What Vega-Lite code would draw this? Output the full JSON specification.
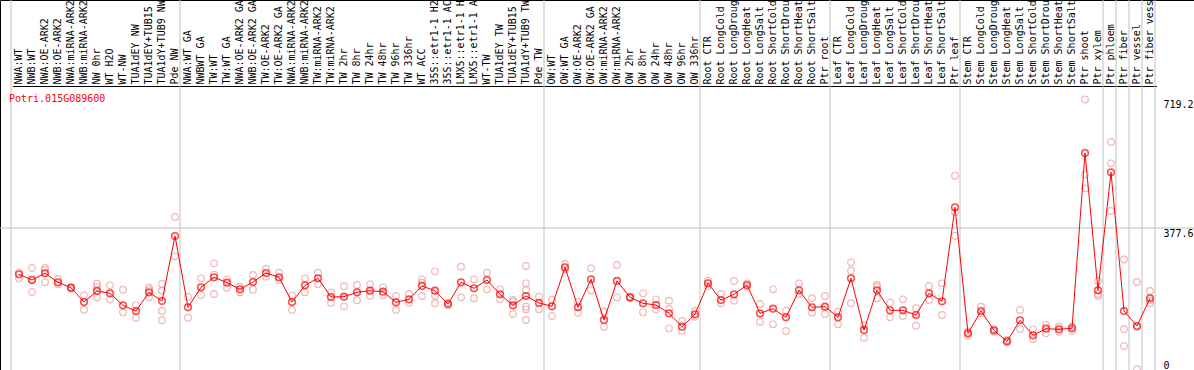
{
  "$schema": "https://vega.github.io/schema/vega-lite/v6.json",
  "width": 1194,
  "height": 370,
  "autosize": {"type": "none"},
  "padding": 0,
  "background": "white",
  "config": {
    "view": {"stroke": "black", "strokeWidth": 1},
    "axis": {"labelFont": "DejaVu Sans Mono", "labelFontSize": 10, "labelColor": "black"}
  },
  "title": {
    "text": "Potri.015G089600",
    "anchor": "start",
    "frame": "group",
    "orient": "top",
    "offset": -127,
    "dx": 9,
    "baseline": "middle",
    "color": "red",
    "font": "DejaVu Sans Mono",
    "fontSize": 10,
    "fontWeight": "normal"
  },
  "data": {
    "values": [
      {"s": "NWA:WT", "m": 254.5, "r": [259.8, 243.8]},
      {"s": "NWB:WT", "m": 239.3, "r": [271.2, 241.2, 207.4]},
      {"s": "NWA:OE-ARK2", "m": 257.1, "r": [271.2, 265.9, 233.2]},
      {"s": "NWB:OE-ARK2", "m": 233.2, "r": [242.0, 227.9]},
      {"s": "NWA:miRNA-ARK2", "m": 218.8, "r": [220.5, 215.4]},
      {"s": "NWB:miRNA-ARK2", "m": 180.8, "r": [198.6, 160.3]},
      {"s": "NW 0hr", "m": 210.1, "r": [229.5, 220.7, 193.3]},
      {"s": "WT H2O", "m": 203.9, "r": [225.2, 188.0]},
      {"s": "WT-NW", "m": 172.0, "r": [213.5, 153.4]},
      {"s": "TUA1dEY NW", "m": 156.9, "r": [172.0, 139.1]},
      {"s": "TUA1dEY+TUB15 NW", "m": 206.6, "r": [218.8, 212.7, 193.3]},
      {"s": "TUA1dY+TUB9 NW", "m": 183.5, "r": [228.7, 210.9, 156.9, 132.2]},
      {"s": "Pde NW", "m": 356.3, "r": [406.8, 302.3], "e": 1},
      {"s": "NWA:WT GA", "m": 166.7, "r": [194.9, 139.1]},
      {"s": "NWBWT GA", "m": 219.9, "r": [243.8, 199.4]},
      {"s": "TW:WT", "m": 246.5, "r": [283.7, 253.4, 202.1]},
      {"s": "TW:WT GA", "m": 232.1, "r": [241.2, 218.8]},
      {"s": "NWA:OE-ARK2 GA", "m": 214.6, "r": [221.5, 206.6]},
      {"s": "NWB:OE-ARK2 GA", "m": 234.0, "r": [252.6, 213.5]},
      {"s": "TW:OE-ARK2", "m": 257.9, "r": [269.4, 248.1]},
      {"s": "TW:OE-ARK2 GA", "m": 246.5, "r": [258.7, 239.3]},
      {"s": "NWA:miRNA-ARK2 GA", "m": 180.8, "r": [198.6, 159.5]},
      {"s": "NWB:miRNA-ARK2 GA", "m": 225.2, "r": [243.8, 206.6]},
      {"s": "TW:miRNA-ARK2", "m": 243.8, "r": [258.7, 228.7]},
      {"s": "TW:miRNA-ARK2 GA", "m": 194.1, "r": [206.6, 179.0]},
      {"s": "TW 2hr", "m": 194.9, "r": [222.6, 169.4]},
      {"s": "TW 8hr", "m": 206.6, "r": [226.0, 185.3]},
      {"s": "TW 24hr", "m": 210.9, "r": [227.9, 197.6]},
      {"s": "TW 48hr", "m": 208.2, "r": [219.9, 199.4]},
      {"s": "TW 96hr", "m": 180.0, "r": [196.8, 159.5]},
      {"s": "TW 336hr", "m": 188.0, "r": [202.1, 179.0]},
      {"s": "WT ACC", "m": 223.4, "r": [241.2, 232.1, 196.8]},
      {"s": "35S::etr1-1 H2O", "m": 210.9, "r": [262.4, 197.6, 177.4]},
      {"s": "35S::etr1-1 ACC", "m": 175.5, "r": [179.0, 172.8]},
      {"s": "LMX5::etr1-1 H2O", "m": 233.2, "r": [274.7, 193.3]},
      {"s": "LMX5::etr1-1 ACC", "m": 217.2, "r": [241.2, 190.7]},
      {"s": "WT-TW", "m": 239.3, "r": [258.7, 214.6]},
      {"s": "TUA1dEY TW", "m": 201.3, "r": [214.6, 188.0]},
      {"s": "TUA1dEY+TUB15 TW", "m": 172.0, "r": [186.1, 181.6, 148.9]},
      {"s": "TUA1dY+TUB9 TW", "m": 196.8, "r": [276.5, 230.5, 212.7, 168.3, 161.4, 133.0]},
      {"s": "Pde TW", "m": 178.2, "r": [194.9, 161.4], "e": 1},
      {"s": "OW:WT", "m": 169.4, "r": [186.1, 143.6]},
      {"s": "OW:WT GA", "m": 273.1, "r": [281.9, 267.8]},
      {"s": "OW:OE-ARK2", "m": 166.7, "r": [181.6, 152.4]},
      {"s": "OW:OE-ARK2 GA", "m": 241.2, "r": [270.4, 211.9]},
      {"s": "OW:miRNA-ARK2", "m": 133.0, "r": [155.0, 115.1]},
      {"s": "OW:miRNA-ARK2 GA", "m": 236.7, "r": [279.2, 193.3]},
      {"s": "OW 2hr", "m": 193.3, "r": [194.9, 190.7]},
      {"s": "OW 8hr", "m": 177.4, "r": [203.9, 153.4]},
      {"s": "OW 24hr", "m": 172.8, "r": [188.0, 161.4]},
      {"s": "OW 48hr", "m": 150.8, "r": [184.3, 162.2, 110.9]},
      {"s": "OW 96hr", "m": 115.1, "r": [130.3, 104.5]},
      {"s": "OW 336hr", "m": 148.1, "r": [156.9, 141.7], "e": 1},
      {"s": "Root CTR", "m": 230.5, "r": [237.5, 223.4]},
      {"s": "Root LongCold", "m": 186.1, "r": [202.1, 177.4]},
      {"s": "Root LongDrought", "m": 201.3, "r": [236.7, 184.3]},
      {"s": "Root LongHeat", "m": 226.0, "r": [230.5, 221.5]},
      {"s": "Root LongSalt", "m": 150.8, "r": [175.5, 128.4]},
      {"s": "Root ShortCold", "m": 163.0, "r": [214.6, 121.5]},
      {"s": "Root ShortDrought", "m": 140.1, "r": [157.7, 103.7]},
      {"s": "Root ShortHeat", "m": 211.9, "r": [230.5, 202.1]},
      {"s": "Root ShortSalt", "m": 166.7, "r": [190.7, 152.4]},
      {"s": "Ptr root", "m": 168.3, "r": [196.8, 148.9], "e": 1},
      {"s": "Leaf CTR", "m": 140.1, "r": [155.0, 121.5]},
      {"s": "Leaf LongCold", "m": 243.8, "r": [286.4, 264.0, 177.4]},
      {"s": "Leaf LongDrought", "m": 106.4, "r": [119.7, 85.9]},
      {"s": "Leaf LongHeat", "m": 211.9, "r": [226.0, 221.5, 190.7]},
      {"s": "Leaf LongSalt", "m": 158.7, "r": [179.0, 140.1]},
      {"s": "Leaf ShortCold", "m": 158.7, "r": [188.0, 143.6]},
      {"s": "Leaf ShortDrought", "m": 146.2, "r": [164.1, 117.8]},
      {"s": "Leaf ShortHeat", "m": 203.9, "r": [223.4, 186.1]},
      {"s": "Leaf ShortSalt", "m": 182.7, "r": [230.5, 146.2]},
      {"s": "Ptr leaf", "m": 432.6, "r": [516.6, 419.3, 357.1], "e": 1},
      {"s": "Stem CTR", "m": 97.6, "r": [101.8, 92.3]},
      {"s": "Stem LongCold", "m": 156.9, "r": [168.3, 150.8]},
      {"s": "Stem LongDrought", "m": 105.6, "r": [108.2, 101.8]},
      {"s": "Stem LongHeat", "m": 76.3, "r": [79.8, 73.7]},
      {"s": "Stem LongSalt", "m": 132.2, "r": [159.5, 109.0]},
      {"s": "Stem ShortCold", "m": 92.3, "r": [108.2, 82.4]},
      {"s": "Stem ShortDrought", "m": 109.8, "r": [119.7, 97.6]},
      {"s": "Stem ShortHeat", "m": 108.2, "r": [115.1, 101.8]},
      {"s": "Stem ShortSalt", "m": 110.9, "r": [115.1, 104.5]},
      {"s": "Ptr shoot", "m": 577.0, "r": [719.2, 520.4, 483.1]},
      {"s": "Ptr xylem", "m": 211.9, "r": [236.7, 196.8, 202.0], "e": 1},
      {"s": "Ptr phloem", "m": 525.7, "r": [606.3, 549.6, 422.8], "e": 1},
      {"s": "Ptr fiber", "m": 156.9, "r": [293.9, 108.5, 63.8], "e": 1},
      {"s": "Ptr vessel", "m": 117.0, "r": [234.0, 115.0, 1.9], "e": 1},
      {"s": "Ptr fiber vessel", "m": 190.7, "r": [210.1, 177.4, 185.0], "e": 1}
    ]
  },
  "encoding": {
    "x": {
      "field": "s",
      "type": "nominal",
      "sort": null,
      "bandPosition": 0.5,
      "scale": {
        "type": "band",
        "domain": ["NWA:WT","NWB:WT","NWA:OE-ARK2","NWB:OE-ARK2","NWA:miRNA-ARK2","NWB:miRNA-ARK2","NW 0hr","WT H2O","WT-NW","TUA1dEY NW","TUA1dEY+TUB15 NW","TUA1dY+TUB9 NW","Pde NW","NWA:WT GA","NWBWT GA","TW:WT","TW:WT GA","NWA:OE-ARK2 GA","NWB:OE-ARK2 GA","TW:OE-ARK2","TW:OE-ARK2 GA","NWA:miRNA-ARK2 GA","NWB:miRNA-ARK2 GA","TW:miRNA-ARK2","TW:miRNA-ARK2 GA","TW 2hr","TW 8hr","TW 24hr","TW 48hr","TW 96hr","TW 336hr","WT ACC","35S::etr1-1 H2O","35S::etr1-1 ACC","LMX5::etr1-1 H2O","LMX5::etr1-1 ACC","WT-TW","TUA1dEY TW","TUA1dEY+TUB15 TW","TUA1dY+TUB9 TW","Pde TW","OW:WT","OW:WT GA","OW:OE-ARK2","OW:OE-ARK2 GA","OW:miRNA-ARK2","OW:miRNA-ARK2 GA","OW 2hr","OW 8hr","OW 24hr","OW 48hr","OW 96hr","OW 336hr","Root CTR","Root LongCold","Root LongDrought","Root LongHeat","Root LongSalt","Root ShortCold","Root ShortDrought","Root ShortHeat","Root ShortSalt","Ptr root","Leaf CTR","Leaf LongCold","Leaf LongDrought","Leaf LongHeat","Leaf LongSalt","Leaf ShortCold","Leaf ShortDrought","Leaf ShortHeat","Leaf ShortSalt","Ptr leaf","Stem CTR","Stem LongCold","Stem LongDrought","Stem LongHeat","Stem LongSalt","Stem ShortCold","Stem ShortDrought","Stem ShortHeat","Stem ShortSalt","Ptr shoot","Ptr xylem","Ptr phloem","Ptr fiber","Ptr vessel","Ptr fiber vessel"],
        "range": [12.5, 1156.5],
        "paddingInner": 0,
        "paddingOuter": 0
      },
      "axis": {
        "orient": "top",
        "offset": -86,
        "title": null,
        "labelAngle": -90,
        "labelAlign": "left",
        "labelBaseline": "middle",
        "labelPadding": 2,
        "labelOverlap": false,
        "labelLimit": 0,
        "ticks": false,
        "grid": false,
        "domain": true,
        "domainColor": "black",
        "domainWidth": 1
      }
    }
  },
  "layer": [
    {
      "transform": [{"filter": "datum.e == 1"}],
      "mark": {"type": "rule", "color": "#c0c0c0", "strokeWidth": 1, "xOffset": -1.5},
      "encoding": {"x": {"field": "s", "type": "nominal", "bandPosition": 1}}
    },
    {
      "transform": [{"filter": "datum.s == 'NWA:WT'"}],
      "mark": {"type": "rule", "color": "#c0c0c0", "strokeWidth": 1, "xOffset": -1.5},
      "encoding": {"x": {"field": "s", "type": "nominal", "bandPosition": 0}}
    },
    {
      "data": {"values": [{"v": 377.6}]},
      "mark": {"type": "rule", "color": "#c0c0c0", "strokeWidth": 1},
      "encoding": {"x": null, "y": {"field": "v", "type": "quantitative"}}
    },
    {
      "transform": [{"flatten": ["r"]}],
      "mark": {"type": "point", "shape": "circle", "filled": false, "size": 44, "strokeWidth": 1.2, "color": "#ec9a9a"},
      "encoding": {"y": {"field": "r", "type": "quantitative"}}
    },
    {
      "mark": {"type": "line", "color": "#ff0000", "strokeWidth": 1},
      "encoding": {"y": {"field": "m", "type": "quantitative"}}
    },
    {
      "mark": {"type": "point", "shape": "circle", "filled": false, "size": 44, "strokeWidth": 1.6, "color": "#ff0000"},
      "encoding": {
        "y": {
          "field": "m",
          "type": "quantitative",
          "scale": {"domain": [0, 983.9], "nice": false, "zero": true},
          "axis": {
            "orient": "right",
            "offset": -34,
            "title": null,
            "values": [0, 377.6, 719.2],
            "format": ".1~f",
            "ticks": false,
            "domain": false,
            "labelAlign": "left",
            "labelPadding": 3,
            "labelFlush": false,
            "labelOverlap": false,
            "labelBaseline": {"condition": {"test": "datum.value == 0", "value": "bottom"}, "value": "top"},
            "grid": false
          }
        }
      }
    }
  ]
}
